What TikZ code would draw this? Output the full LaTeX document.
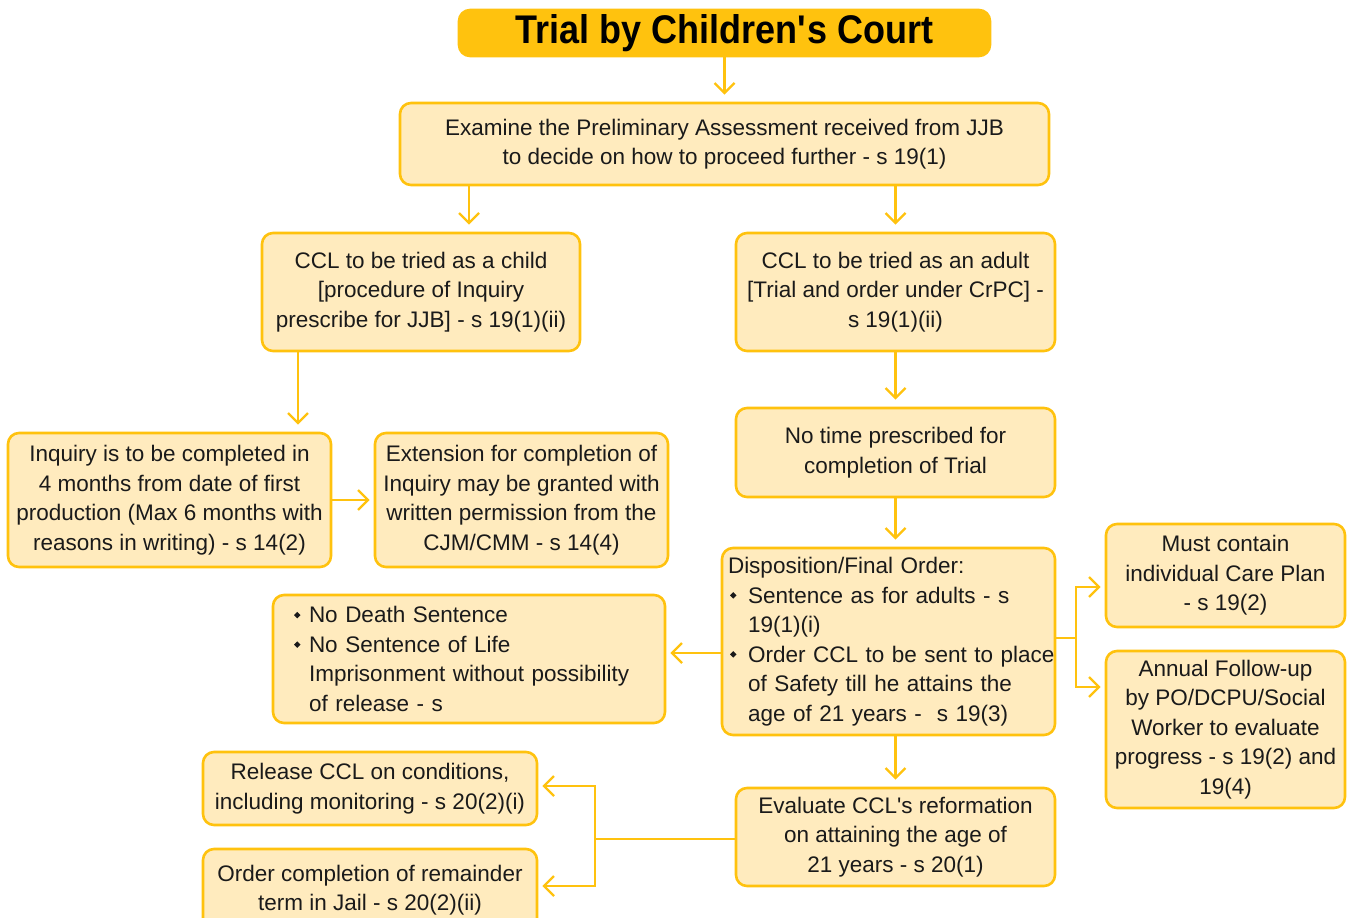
\documentclass[tikz,border=0pt]{standalone}
\usepackage{fontspec}
\setmainfont{Liberation Sans}
\newfontfamily\titlefont[FakeStretch=0.9]{Liberation Sans}
\usetikzlibrary{arrows.meta}
\definecolor{gold}{HTML}{FFC20E}
\definecolor{pale}{HTML}{FFEBBE}
\definecolor{ink}{HTML}{1A1A1A}
\newcommand{\bul}[1]{\makebox[#1][l]{\hspace*{2pt}\raisebox{4.5pt}{\rotatebox{45}{\rule{4.6pt}{4.6pt}}}}}
\newcommand{\ap}{\textquotesingle}
\begin{document}
\begin{tikzpicture}[x=1pt,y=-1pt,
 box/.style={draw=gold, fill=pale, line width=2.6pt, rounded corners=11pt, inner sep=0pt, align=center, text=ink, font=\fontsize{22.5}{29.5}\selectfont},
 arr/.style={draw=gold, line width=2.4pt, -{Straight Barb[length=10pt,width=20pt]}, shorten >=7pt},
 harr/.style={arr, shorten >=4pt},
 plain/.style={draw=gold, line width=2.4pt},
 ]
\useasboundingbox (0,0) rectangle (1352,918);
\node[box, fill=gold, minimum width=531pt, minimum height=46pt, font=\titlefont\bfseries\fontsize{40}{44}\selectfont, text=black] (title) at (724.5,33) {Trial by Children\ap s Court};
\node[box, minimum width=649pt, minimum height=82pt] (exam) at (724.5,144) {Examine the Preliminary Assessment received from JJB\\to decide on how to proceed further - s 19(1)};
\node[box, minimum width=318pt, minimum height=118pt] (child) at (421,292) {CCL to be tried as a child\\{[procedure} of Inquiry\\prescribe for JJB] - s 19(1)(ii)};
\node[box, minimum width=319pt, minimum height=118pt] (adult) at (895.5,292) {CCL to be tried as an adult\\{[Trial} and order under CrPC] -\\s 19(1)(ii)};
\node[box, minimum width=323pt, minimum height=134pt] (inquiry) at (169.5,500) {Inquiry is to be completed in\\4 months from date of first\\production (Max 6 months with\\reasons in writing) - s 14(2)};
\node[box, minimum width=293pt, minimum height=134pt] (ext) at (521.5,500) {Extension for completion of\\Inquiry may be granted with\\written permission from the\\CJM/CMM - s 14(4)};
\node[box, minimum width=319pt, minimum height=89pt] (notime) at (895.5,452.5) {No time prescribed for\\completion of Trial};
\node[box, minimum width=333pt, minimum height=187pt, align=left, text width=321pt, inner xsep=6pt] (disp) at (888.5,641.5) {\mbox{Disposition/Final Order:}\\
\mbox{\bul{20pt}Sentence as for adults - s}\\
\mbox{\hspace*{20pt}19(1)(i)}\\
\mbox{\bul{20pt}Order CCL to be sent to place}\\
\mbox{\hspace*{20pt}of Safety till he attains the}\\
\mbox{\hspace*{20pt}age of 21 years - \ s 19(3)}};
\node[box, minimum width=392pt, minimum height=128pt, align=left, text width=354pt, inner xsep=19pt] (nodeath) at (469,659) {\mbox{\bul{17pt}No Death Sentence}\\
\mbox{\bul{17pt}No Sentence of Life}\\
\mbox{\hspace*{17pt}Imprisonment without possibility}\\
\mbox{\hspace*{17pt}of release - s}};
\node[box, minimum width=239pt, minimum height=103pt] (must) at (1225.5,575.5) {Must contain\\individual Care Plan\\- s 19(2)};
\node[box, minimum width=239pt, minimum height=157pt] (annual) at (1225.5,729.5) {Annual Follow-up\\by PO/DCPU/Social\\Worker to evaluate\\progress - s 19(2) and\\19(4)};
\node[box, minimum width=319pt, minimum height=98pt] (eval) at (895.5,837) {Evaluate CCL\ap s reformation\\on attaining the age of\\21 years - s 20(1)};
\node[box, minimum width=334pt, minimum height=73pt] (release) at (370,788.5) {Release CCL on conditions,\\including monitoring - s 20(2)(i)};
\node[box, minimum width=334pt, minimum height=82pt] (order) at (370,890) {Order completion of remainder\\term in Jail - s 20(2)(ii)};
% helper coordinates
\coordinate (xa) at (469,0);
\coordinate (xb) at (298,0);
\coordinate (yd) at (0,653);
\coordinate (j) at (1076,638);
\coordinate (ym1) at (0,587);
\coordinate (ym2) at (0,687);
\coordinate (k) at (595,839);
\coordinate (yr1) at (0,786);
\coordinate (yr2) at (0,886);
% connectors
\draw[arr] (title.south) -- (exam.north);
\draw[arr] (exam.south -| xa) -- (child.north -| xa);
\draw[arr] (exam.south -| adult.north) -- (adult.north);
\draw[arr] (child.south -| xb) -- (inquiry.north -| xb);
\draw[harr] (inquiry.east) -- (ext.west);
\draw[arr] (adult.south) -- (notime.north);
\draw[arr] (notime.south) -- (notime.south |- disp.north);
\draw[harr] (disp.west |- yd) -- (nodeath.east |- yd);
\draw[plain] (disp.east |- j) -- (j);
\draw[harr] (j) |- (must.west |- ym1);
\draw[harr] (j) |- (annual.west |- ym2);
\draw[arr] (disp.south -| eval.north) -- (eval.north);
\draw[plain] (eval.west |- k) -- (k);
\draw[harr] (k) |- (release.east |- yr1);
\draw[harr] (k) |- (order.east |- yr2);
\end{tikzpicture}
\end{document}
